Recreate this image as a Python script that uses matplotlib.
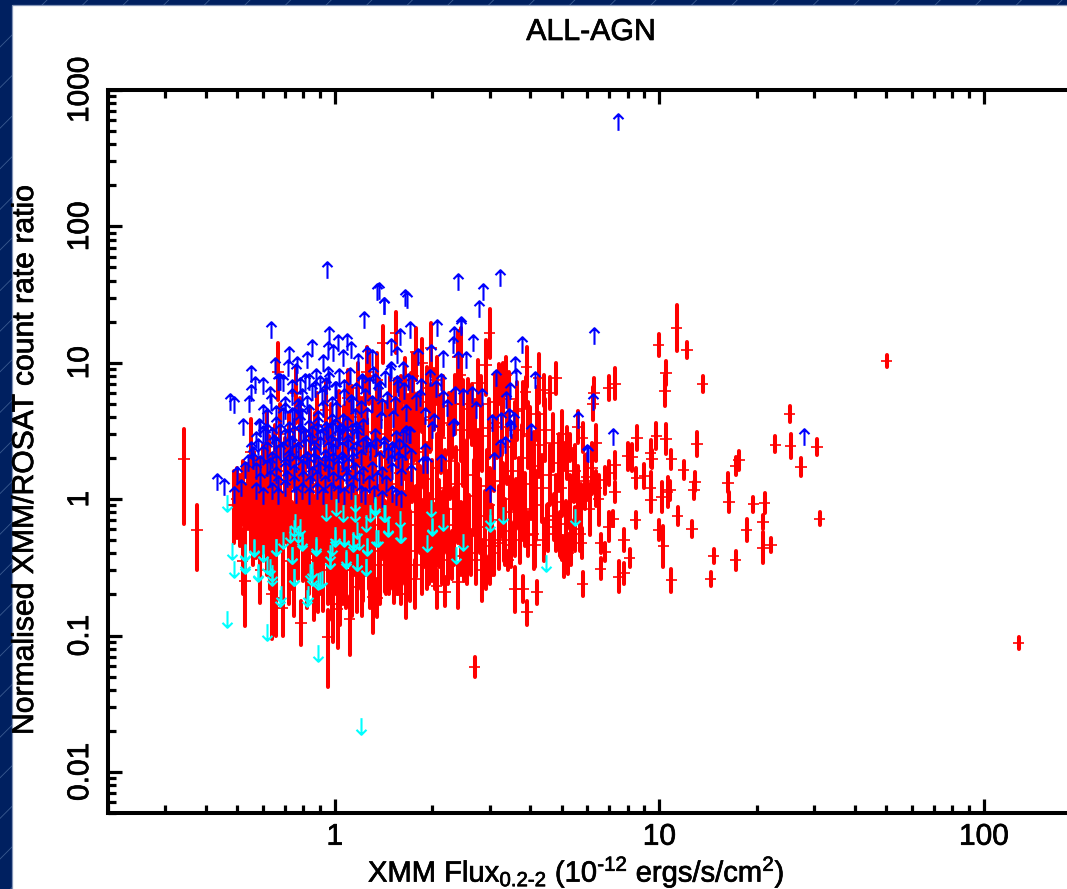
import numpy as np
import matplotlib
matplotlib.use("Agg")
import matplotlib.pyplot as plt
import matplotlib.patheffects as pe
from matplotlib.path import Path

plt.rcParams['font.family'] = ['Liberation Sans', 'DejaVu Sans']
plt.rcParams['mathtext.fontset'] = 'custom'
plt.rcParams['mathtext.rm'] = 'Liberation Sans'
plt.rcParams['mathtext.default'] = 'regular'

# detections: flux, ratio, ratio low end, ratio high end
red_x = [
    11.3, 9.96, 12.2, 10.5, 10.4, 13.6, 25.2, 22.8, 25.4, 30.7,
    27.4, 31.2, 50.2, 128, 8.54, 9.8, 10.5, 13.1, 8, 8.26,
    9.4, 9.5, 10.9, 11.9, 17.6, 17.2, 16.3, 16.4, 19.5, 21.1,
    20.9, 20.9, 22.1, 18.6, 17.2, 14.7, 14.4, 12.6, 11.4, 10.9,
    10.3, 10, 8.46, 9.45, 10.2, 10.6, 10.8, 12.9, 12.8, 8.5,
    9, 9.4, 7.3, 7.3, 7.2, 7, 7.8, 8.1, 6.8, 6.6,
    6.6, 7.5, 7.8, 5.8, 4.2, 3.92, 3.8, 3.6, 7, 7.3,
    6.3, 6.25, 6.4, 5.6, 5.8, 5.3, 5.1, 4.8, 4.6, 4.4,
    4.25, 3.9, 3.87, 3, 6.8, 7, 6.4, 6, 5.76, 5.7,
    5.24, 5.1, 5, 4.8, 4.5, 4.1, 3.8, 3.62, 3.42, 3.32,
    3.2, 3.03, 2.93, 2.85, 2.7, .343, .376, .53, .64, .66,
    .69, .787, .95, 1.02, .99, 1.11, 1.17, 1.31, 1.35, 1.52,
    1.47, .59, .52, .49, .92, 1.08, 1.66, 1.77, 2.06, 2.19,
    2.4, 2.56, 1.54, 1.41, 1.78, 1.98, 1.86, 1.65, 1.74, 2.06,
    1.92, 1.35, 1.27, 1.18, 1.1, 2.44, 2.4, 2.93, 2.76, 3.2,
    3.38, 3.3, 2.48, .67, .76, .55, .94, 1.26, 5, 5.5,
    .5, .51, .52, .53, .54, .55, .56, .565, .57, .58,
    .59, .6, .6, .61, .62, .625, .63, .64, .65, .655,
    .66, .67, .68, .69, .7, .71, .72, .73, .74, .75,
    .76, .77, .78, .79, .8, .81, .82, .83, .84, .85,
    .86, .87, .88, .89, .9, .91, .92, .93, .94, .95,
    .96, .97, .98, .99, 1, 1.01, 1.02, 1.03, 1.05, 1.06,
    1.07, 1.08, 1.1, 1.11, 1.12, 1.14, 1.15, 1.16, 1.18, 1.19,
    1.2, 1.22, 1.23, 1.25, 1.26, 1.27, 1.29, 1.3, 1.32, 1.33,
    1.35, 1.37, 1.39, 1.41, 1.43, 1.45, 1.47, 1.49, 1.51, 1.53,
    1.55, 1.57, 1.59, 1.61, 1.63, 1.65, 1.67, 1.69, 1.71, 1.73,
    1.75, 1.78, 1.8, 1.83, 1.85, 1.88, 1.9, 1.93, 1.95, 1.98,
    2, 2.03, 2.06, 2.09, 2.12, 2.15, 2.18, 2.21, 2.24, 2.27,
    2.3, 2.33, 2.37, 2.4, 2.44, 2.48, 2.52, 2.56, 2.6, 2.64,
    2.68, 2.72, 2.76, 2.8, 2.85, 2.9, 2.95, 3, 3.05, 3.1,
    3.15, 3.2, 3.25, 3.3, 3.35, 3.4, 3.46, 3.52, 3.58, 3.64,
    3.7, 3.78, 3.86, 3.94, 4.02, 4.1, 4.18, 4.26, 4.35, 4.45,
    4.6, 4.7, 4.8, 4.9, 5, 5.2, 5.3, 5.45, 5.6, 5.75,
    4.55, 4.75, 4.95, 5.15, 5.35, 5.5, 5.9, 6.1, 6.2, 6.5,
    .62, .68, .72, .78, .84, .88, .97, 1.03, 1.09, 1.13,
    1.21, 1.24, 1.31, 1.38, 1.44, 1.48, 1.56, 1.6, 1.68, 1.72,
    1.81, 1.86, 1.96, 2.02, 2.1, 2.16, 2.25, 2.35, 2.45, 2.58,
    2.7, 2.82, 2.98, 3.12, 3.28, 3.45, 3.6, 3.8, 4, 4.2,
    .72, .75, .82, .86, .89, .98, 1.04, 1.13, 1.21, 1.28,
    1.38, 1.44, 1.55, 1.6, 1.7, 1.85, 1.92, 2, 2.14, 2.3,
    2.5, 2.62, 2.72, 3, 3.1, 3.5, 3.72, 3.95, 4.15, 4.4,
]
red_y = [
    18, 13.5, 12.4, 8.4, 6.2, 7, 4.2, 2.5, 2.45, 2.4,
    1.73, .72, 10.3, .088, 2.83, 2.9, 2.77, 2.53, 2.07, 2.03,
    2.17, 1.97, 1.96, 1.63, 1.93, 1.75, 1.32, .955, .92, .94,
    .675, .44, .46, .59, .357, .38, .258, .605, .755, .255,
    .45, .59, .7, .98, 1.04, 1.13, 1.16, 1.34, 1.16, 1.42,
    1.47, 1.2, 1.77, 1.13, .72, .63, .5, .37, .41, .475,
    .31, .27, .287, .238, .207, .149, .22, .22, 6.5, 7,
    6, 5, 2.57, 3.4, 2.8, 2.37, 2.07, 7.7, 6, 6.3,
    7.7, 9.3, 6.1, 16.5, 1.38, 1.55, 1.2, 1.45, .475, .56,
    .4, .37, .44, .56, .7, .56, .79, .93, .357, .5,
    .475, .45, .287, .3, .059, 1.96, .59, .25, .2, .19,
    .16, .124, .097, .156, .17, .133, .227, .192, .188, .263,
    .3, .3, .35, .9, .3, .3, .2, .26, .23, .21,
    .248, .31, 16.5, 14, 12, 12.8, 10, 7.5, 8, 7.5,
    6.5, 7.5, 8, 6.5, 5.5, 8.1, 11, 9.6, 7.1, 7,
    8.1, 6.5, 5, 8.5, 6, 2.2, 4.5, 8.5, 3, 1.6,
    1, .85, 1.2, .75, 1.05, .9, .7, 1.3, .8, 1.1,
    .62, 1.4, .85, 1, .7, 1.7, .55, 1.15, .8, 2,
    .65, 1.3, .9, .6, 1.6, 1, .72, 1.25, .5, 2.2,
    .85, .62, 1.4, 1, .58, 1.8, .78, .45, 1.15, .9,
    .55, 2.5, .72, 1.3, .5, 1, .65, 1.7, .82, .42,
    1.2, .6, 2, .75, 1.05, .5, 1.5, .7, .9, .4,
    2.8, .62, 1.2, .8, .48, 1.75, .68, 1, .55, 3.2,
    .9, .45, 1.4, .7, 2.2, .55, 1.05, .78, .42, 1.6,
    3.8, .65, 1.15, .85, .5, 2, .72, 1.3, .55, 4.5,
    .95, .46, 1.55, .7, 2.6, .58, 1.1, .8, .42, 1.8,
    3.4, .65, 1.25, .9, .5, 2.2, .75, 1.4, .56, 4,
    1, .48, 1.7, .72, 2.8, .6, 1.2, .85, .46, 1.9,
    3.5, .65, 1.3, .95, .52, 2.3, .78, 1.5, .6, 4.2,
    1.05, .55, 1.8, .75, 2.9, .62, 1.25, .9, .5, 2.1,
    3.6, .7, 1.35, 1, .58, 2.4, .8, 1.6, .65, 4.4,
    1.1, 2, .85, 3, 1.3, 1.75, .9, 2.5, 1.2, 3.2,
    1.5, 2.6, .95, 1.85, 1.2, 2.2, .95, 1.5, 1.1, .85,
    .62, .75, .55, .66, .48, .6, 1.35, .85, 1.7, 1,
    2.6, 3, 2.4, 3.2, 2.7, 3.5, 2.9, 3.6, 3, 4,
    3.2, 4.4, 3.1, 4.2, 3, 4.6, 3.2, 4.8, 3.4, 5,
    3.6, 5.2, 3.8, 5.4, 3.4, 4.8, 3.6, 5, 3.2, 4.6,
    3.2, 5, 3.3, 5.2, 3.4, 5.4, 3.2, 4.6, 2.9, 4.2,
    .35, .3, .36, .28, .34, .3, .28, .3, .3, .33,
    .33, .36, .34, .3, .33, .33, .36, .38, .36, .38,
    .38, .4, .36, .36, .4, .46, .5, .55, .46, .5,
]
red_lo = [
    12.1, 11.2, 10.8, 6.9, 4.8, 6.1, 3.7, 2.2, 2, 2.1,
    1.48, .65, 9.3, .08, 2.3, 2.35, 2.15, 2.06, 1.65, 1.6,
    1.73, 1.7, 1.67, 1.4, 1.65, 1.5, 1.12, .81, .81, .79,
    .6, .34, .41, .49, .3, .34, .23, .53, .65, .21,
    .32, .5, .61, .8, .8, .88, .98, 1.14, 1, 1.2,
    1.2, .92, 1.4, .95, .64, .49, .42, .32, .35, .4,
    .26, .21, .24, .195, .17, .12, .175, .15, 5.3, 5.4,
    4.65, 3.8, 1.9, 2.6, 2.2, 1.9, 1.65, 5.9, 4.55, 4.8,
    5.1, 6.6, 4.7, 10.9, 1.1, 1.27, .89, .98, .37, .42,
    .285, .27, .36, .42, .54, .31, .5, .61, .3, .35,
    .31, .3, .22, .18, .05, .655, .3, .117, .094, .1,
    .1, .085, .042, .081, .09, .072, .149, .104, .137, .172,
    .2, .174, .2, .475, .152, .158, .134, .16, .16, .165,
    .16, .238, 11.8, 10, 7.5, 8, 6.6, 5, 5.4, 5,
    4.5, 4.8, 5, 4.2, 3.5, 5.3, 6.5, 5.8, 4.9, 5,
    5.8, 4.2, 3.2, 5.3, 3.6, 1.2, 2.6, 5.5, 1.9, 1,
    .52, .45, .65, .38, .6, .42, .33, .7, .37, .55,
    .3, .75, .4, .5, .28, .95, .22, .6, .35, 1.1,
    .3, .7, .42, .25, .85, .48, .3, .65, .22, 1.2,
    .38, .26, .75, .46, .25, .95, .33, .2, .58, .4,
    .24, 1.4, .3, .68, .2, .46, .27, .9, .35, .17,
    .6, .24, 1.05, .3, .5, .2, .78, .28, .4, .17,
    1.55, .25, .58, .34, .2, .9, .28, .46, .22, 1.8,
    .4, .18, .72, .28, 1.2, .22, .5, .33, .17, .82,
    2.1, .26, .56, .37, .21, 1.05, .3, .65, .22, 2.6,
    .43, .2, .8, .28, 1.4, .24, .52, .34, .18, .95,
    1.9, .27, .62, .4, .22, 1.2, .32, .72, .24, 2.3,
    .48, .22, .9, .32, 1.55, .28, .6, .4, .24, 1,
    2, .33, .68, .48, .28, 1.25, .4, .8, .33, 2.5,
    .55, .3, .95, .4, 1.6, .33, .65, .46, .28, 1.15,
    2, .38, .7, .52, .33, 1.3, .42, .85, .38, 2.7,
    .6, 1.1, .45, 1.7, .72, .95, .5, 1.45, .68, 1.9,
    .9, 1.6, .6, 1.15, .75, 1.4, .6, .95, .68, .55,
    .42, .5, .38, .45, .33, .42, .85, .55, 1.1, .65,
    1.5, 1.7, 1.35, 1.8, 1.5, 2, 1.6, 2, 1.7, 2.3,
    1.8, 2.5, 1.8, 2.4, 1.7, 2.7, 1.9, 2.8, 2, 3,
    2.1, 3.1, 2.2, 3.2, 2, 2.9, 2.1, 3, 1.9, 2.8,
    1.9, 3.1, 2, 3.2, 2.1, 3.4, 2, 2.9, 1.8, 2.7,
    .17, .14, .16, .13, .15, .13, .12, .14, .14, .16,
    .17, .2, .2, .17, .2, .2, .22, .25, .24, .26,
    .25, .28, .24, .24, .28, .32, .34, .38, .32, .35,
]
red_hi = [
    26.7, 16.2, 14.2, 10.3, 8.1, 8, 4.8, 2.9, 3, 2.75,
    2, .81, 11.4, .097, 3.45, 3.6, 3.56, 3.1, 2.6, 2.55,
    2.7, 2.3, 2.3, 1.9, 2.27, 2.04, 1.56, 1.13, 1.04, 1.11,
    .76, .57, .52, .71, .42, .43, .29, .69, .88, .31,
    .64, .7, .8, 1.2, 1.34, 1.45, 1.37, 1.57, 1.33, 1.68,
    1.8, 1.57, 2.2, 1.33, .82, .81, .6, .43, .48, .56,
    .37, .35, .34, .29, .25, .18, .275, .32, 8, 9.1,
    7.75, 6.6, 3.5, 4.45, 3.6, 3, 2.6, 10, 7.9, 8.2,
    11.5, 13, 7.9, 25, 1.73, 1.9, 1.62, 2.15, .61, .74,
    .56, .5, .54, .74, .9, 1, 1.24, 1.4, .42, .72,
    .72, .66, .38, .5, .07, 3.26, .9, .535, .43, .36,
    .25, .18, .155, .22, .3, .195, .357, .357, .26, .4,
    .45, .52, .6, 1.6, .55, .55, .36, .357, .305, .27,
    .33, .4, 23.7, 18.5, 18, 19.6, 15, 10.8, 11.8, 11,
    9.3, 11.8, 12.4, 10, 8.8, 18, 17, 14.6, 10.4, 9.8,
    11, 10, 7.5, 14, 9.4, 3.9, 7.5, 13, 4.4, 2.5,
    1.7, 1.5, 1.9, 1.3, 1.8, 1.55, 1.2, 2.2, 1.45, 2,
    1.15, 2.5, 1.6, 1.9, 1.3, 2.9, 1, 2.1, 1.5, 3.5,
    1.2, 2.4, 1.7, 1.1, 2.8, 1.9, 1.3, 2.3, .95, 3.8,
    1.6, 1.2, 2.5, 1.9, 1.05, 3.1, 1.45, .85, 2.2, 1.7,
    1.05, 4.3, 1.35, 2.4, .98, 1.95, 1.25, 3, 1.55, .8,
    2.3, 1.15, 3.6, 1.4, 2, .95, 2.7, 1.35, 1.75, .78,
    4.8, 1.2, 2.3, 1.55, .92, 3.1, 1.3, 1.95, 1.05, 5.6,
    1.7, .88, 2.6, 1.35, 3.9, 1.05, 2.05, 1.5, .82, 2.9,
    6.6, 1.25, 2.2, 1.65, .97, 3.6, 1.4, 2.5, 1.08, 7.6,
    1.85, .9, 2.8, 1.35, 4.6, 1.12, 2.15, 1.55, .82, 3.2,
    6, 1.25, 2.4, 1.75, .98, 3.9, 1.45, 2.6, 1.1, 7,
    1.95, .92, 3, 1.38, 4.8, 1.15, 2.3, 1.6, .85, 3.4,
    6, 1.2, 2.4, 1.8, .95, 4, 1.45, 2.7, 1.08, 7,
    1.95, 1, 3.2, 1.4, 5, 1.15, 2.3, 1.7, .9, 3.7,
    6.2, 1.25, 2.5, 1.85, 1, 4.2, 1.45, 2.9, 1.1, 7.2,
    2, 3.5, 1.55, 5.2, 2.3, 3.1, 1.6, 4.3, 2.1, 5.4,
    2.5, 4.2, 1.5, 3, 1.9, 3.4, 1.5, 2.35, 1.75, 1.3,
    .92, 1.1, .8, .97, .7, .88, 2.1, 1.3, 2.6, 1.5,
    4.4, 5, 4.2, 5.5, 4.7, 6, 5, 6.2, 5.2, 6.8,
    5.5, 7.5, 5.3, 7.2, 5.2, 7.8, 5.4, 8, 5.8, 8.4,
    6, 8.8, 6.4, 9, 5.8, 8, 6, 8.2, 5.4, 7.6,
    5.3, 8, 5.4, 8.4, 5.6, 8.6, 5.2, 7.2, 4.7, 6.6,
    .7, .6, .72, .58, .7, .62, .58, .6, .6, .65,
    .62, .65, .6, .55, .58, .56, .6, .6, .56, .58,
    .58, .58, .55, .54, .58, .68, .75, .8, .66, .72,
]

# lower limits (up arrows): flux, ratio
blue_x = [
    7.45, .945, .434, .455, .49, .515, .5, .528, .54, .55,
    .475, .49, .545, .55, .567, .55, .6, .638, .656, .63,
    .52, .583, .6, .62, .638, .677, .72, .715, .765, .82,
    .85, .92, .955, .96, .955, 1.02, .99, 1.09, 1.12, 1.06,
    1.18, 1.23, 1.26, 1.3, 1.49, 1.62, 1.59, 1.71, 1.49, 1.56,
    1.42, 2.06, 1.81, 1.98, 2.15, 2.4, 2.54, 2.67, 2.45, 2.33,
    2.32, 1.68, 1.96, 2.12, 1.57, 1.21, 1.31, 1.01, .875, .81,
    .76, .69, .67, .74, .79, .85, .91, .94, 1.07, 1.14,
    1.24, 1.36, 1.45, 1.53, 1.78, 1.83, 2.15, 2.21, 2.34, 2.48,
    2.64, 2.73, 1.66, 1.89, 2.02, 2.32, 2, .587, .62, .69,
    .75, .79, .886, .98, 1.06, 1.15, 1.26, 1.39, 1.51, 1.66,
    1.7, .57, .61, .65, .7, .74, .8, .84, .9, .97,
    1.03, 1.1, 1.17, 1.25, 1.33, 1.42, 1.54, .56, .6, .64,
    .68, .72, .76, .82, .87, .93, .99, 1.05, 1.13, 1.2,
    1.28, 1.37, 1.46, 1.57, 1.72, 1.9, 2.12, .57, .62, .66,
    .7, .75, .79, .85, .9, .95, 1.02, 1.08, 1.15, 1.22,
    1.3, 1.4, 1.5, 1.6, 1.72, .57, .6, .64, .67, .7,
    .76, .79, .83, .88, .92, .97, 1.02, 1.07, 1.12, 1.2,
    1.24, 1.32, 1.4, 1.5, 1.6, 1.54, 1.92, 1.87, 3, 3.1,
    3.24, 3.34, 6, 2.33, 3.46, 4.03, 1.61, 1.49, 1.62, 1.69,
    1.52, 1.64, 6.3, 3.77, 3.6, 3.62, 3.13, 4.15, 3.46, 3.36,
    2.85, 6.25, 3.05, 3.25, 3.45, 3.57, 3.48, 5.6, 7.2, 28,
    6.05, 1.37, 1.42, 1.64, 1.67, 2.4, 3.24, 2.87, 2.78, 2.44,
    1.35, .66, .72, .78, .83, .89, .94, 1, 1.04, 1.09,
    1.16, 1.22, .7, .77, .82, .92, .98, 1.01, 1.12, 1.2,
    1.3, 1.4,
    .58, .62, .66, .69, .73, .77, .81, .86, .9, .95,
    1, 1.05, 1.1, 1.16, 1.22, 1.28, 1.34, 1.42, 1.5, 1.58,
    .59, .63, .67, .71, .75, .8, .84, .88, .93, .99,
    1.04, 1.09, 1.14, 1.19, 1.27, 1.35, 1.44, .74, .78, .83,
    .87, .9, .93, .96, 1, 1.03, 1.07, 1.11, 1.16, 1.21,
    1.27, 1.33, 1.38, 1.43, 1.48, 1.55, 1.63, 1.73, 1.84, 2.05,
    .56, .59, .63, .66, .7, .73, .76, .8, .83, .86,
    .89, .93, .96, .99, 1.02, 1.06, 1.1, 1.14, .6, .64,
    .68, .72, .75, .78, .81, .85, .88, .92, .95, .98,
    1.02, 1.05, 1.09, 1.13, 1.18, .66, .7, .74, .78, .83,
]
blue_y = [
    580, 47.5, 1.34, 1.22, 1.07, 1.2, 1.5, 1.63, 1.84, 2.3,
    5.2, 4.9, 5, 8.3, 6.9, 6, 6.7, 17.3, 9.5, 5.8,
    3.4, 3.4, 4.3, 4, 5.2, 7.2, 11.4, 9.1, 9.6, 10.4,
    12.8, 9.9, 8.1, 16, 12.4, 13.9, 11.8, 14.2, 12.4, 10.8,
    10.2, 20.5, 11.4, 10.8, 8.8, 8.8, 15.5, 17.3, 13, 11.4,
    26, 18, 11, 11.8, 10.6, 10.4, 10.4, 13.9, 18.8, 16,
    13.5, 7.2, 7.7, 7.2, 6.5, 7.2, 8.1, 6.3, 7.9, 7.2,
    8.6, 7.1, 7.2, 5.6, 5.6, 6.1, 5.6, 6.7, 5.6, 4.9,
    5.6, 6.1, 5.3, 4.9, 5.2, 5.5, 5.4, 4.65, 5.8, 5.6,
    5.8, 4.5, 4.3, 4.1, 3.7, 3.3, 3.2, 3.3, 3.1, 4.1,
    4.1, 4, 3.9, 3.7, 3.7, 4, 4.1, 3.8, 3.9, 3,
    2.95, 2.7, 2.9, 2.6, 2.85, 2.55, 2.95, 2.65, 2.8, 2.6,
    2.9, 2.6, 2.8, 2.55, 2.85, 2.5, 2.75, 2.1, 2.15, 1.95,
    2.2, 2, 2.2, 1.95, 2.15, 2, 2.2, 1.95, 2.15, 2,
    2.2, 1.95, 2.1, 1.95, 2.05, 2.2, 1.85, 1.6, 1.7, 1.5,
    1.65, 1.55, 1.7, 1.5, 1.65, 1.55, 1.7, 1.5, 1.6, 1.5,
    1.65, 1.5, 1.6, 1.45, 1.55, 1.15, 1.05, 1.15, 1.05, 1.2,
    1.08, 1.15, 1.05, 1.15, 1.05, 1.15, 1.1, 1.05, 1.15, 1.1,
    1.05, 1.1, 1, 1.1, 1, 1.04, 1.77, 1.77, 1.1, 1.9,
    2.37, 2.5, 2.17, 3.4, 3.3, 3.1, 1.84, 1.84, 2.8, 2.95,
    2.17, 2.2, 15.7, 13.4, 9.6, 7.9, 7.7, 7.45, 6.2, 5.3,
    5.6, 5.2, 3.6, 3.75, 4, 3.75, 3.2, 3.8, 2.86, 2.85,
    2.13, 33.6, 26, 30, 28.8, 39, 42, 33, 24.7, 18.3,
    33, 3.5, 3.2, 3.6, 3.3, 3.5, 3.2, 3.4, 3.1, 3.5,
    3.2, 3.4, 4.9, 4.7, 5, 4.6, 4.9, 4.5, 5.1, 4.6,
    5, 4.7,
    2.4, 2.3, 2.45, 2.3, 2.5, 2.3, 2.45, 2.35, 2.5, 2.3,
    2.45, 2.3, 2.4, 2.3, 2.45, 2.3, 2.45, 2.35, 2.3, 2.4,
    1.35, 1.4, 1.3, 1.4, 1.3, 1.4, 1.3, 1.4, 1.3, 1.38,
    1.3, 1.38, 1.3, 1.4, 1.3, 1.38, 1.3, 6.5, 6.8, 7.2,
    6.4, 7, 6, 7.5, 6.3, 7.8, 6.5, 8, 6.2, 7,
    6.8, 7.2, 6.4, 7.6, 8.4, 7, 6.2, 7, 6.6, 6.4,
    1.9, 1.8, 1.75, 1.85, 1.75, 1.9, 1.8, 1.85, 1.75, 1.9,
    1.8, 1.85, 1.75, 1.9, 1.8, 1.85, 1.75, 1.9, 3, 2.9,
    3.1, 2.85, 3, 3.1, 2.85, 3, 3.15, 2.9, 3.05, 3.2,
    2.85, 3.1, 2.9, 3.1, 3, 4.2, 4.4, 4.1, 4.5, 4.3,
]

# upper limits (down arrows): flux, ratio
cyan_x = [
    1.2, .483, .49, .528, .53, .563, .6, .58, .62, .64,
    .658, .69, .74, .747, .84, .85, .91, .886, .82, .68,
    .465, .616, .89, .878, .965, .965, 1, 1.07, 1.14, 1.19,
    1.26, 1.34, 1.08, 1.17, 1.25, 1.46, .747, .77, .79, .727,
    1.59, 2, 2.15, 1.92, 2.36, 2.48, 3, 4.47, 5.5, 3.3,
    3, 1.33, 1.42, 1.46, 1.59, 1.6, 1.98, 1.99, .465, .753,
    .78, .79, .94, 1.01, 1.06, 1.15, 1.15, 1.28, 1.33, 1.43,
    1.36, 1.25, 1.17, 1.26, 1.14, 1.07, 1, .98, .965, .878,
    .74, .75, .85, .9, .66, .6, .563, .528, .63, .64,
    .58, .528, 1.08, 1.17, 1.25, .685, .825,
]
cyan_y = [
    .0218, .418, .31, .34, .41, .445, .404, .288, .328, .286,
    .445, .5, .388, .27, .293, .27, .26, .25, .19, .188,
    .132, .107, .074, .46, .4, .357, .545, .52, .5, .495,
    .45, .52, .36, .347, .32, .61, .61, .56, .487, .56,
    .56, .62, .68, .476, .39, .487, .665, .34, .74, .76,
    .74, .9, .79, .63, .72, .56, .86, .634, .935, .68,
    .626, .5, .807, .88, .79, .93, .79, .79, .88, .79,
    .52, .667, .59, .447, .476, .53, .52, .447, .357, .447,
    .388, .27, .3, .255, .447, .4, .437, .4, .32, .27,
    .293, .328, .37, .347, .32, .2, .2,
]

x_ticks = [1, 10, 100]
x_tick_labels = ['1', '10', '100']
y_ticks = [0.01, 0.1, 1, 10, 100, 1000]
y_tick_labels = ['0.01', '0.1', '1', '10', '100', '1000']

W, H = 1067, 889
red_dx = 0.041  # half width of the flux bar, as a fraction of the flux
bolder = [pe.withStroke(linewidth=0.5, foreground='black')]

up_arrow = Path([(0, -1), (0, 1), (-.6, .4), (0, 1), (.6, .4)],
                [Path.MOVETO, Path.LINETO, Path.MOVETO, Path.LINETO, Path.LINETO])
down_arrow = Path([(0, 1), (0, -1), (-.6, -.4), (0, -1), (.6, -.4)],
                  [Path.MOVETO, Path.LINETO, Path.MOVETO, Path.LINETO, Path.LINETO])

fig = plt.figure(figsize=(W / 100, H / 100), dpi=100)

# slide background behind the plot
bg = fig.add_axes([0, 0, 1, 1])
bg.set_xlim(0, W)
bg.set_ylim(H, 0)
bg.axis('off')
bg.add_patch(plt.Rectangle((0, 0), W, H, color='#002060', lw=0, zorder=1))
for c in np.arange(47, 47 + 41 * 50, 40.6):
    bg.plot([c, 0], [0, c], color='#3a5a90', lw=0.6, zorder=2)
bg.add_patch(plt.Rectangle((12, 5), W, H, facecolor='white', edgecolor='#8496b8', lw=0.9, zorder=3))

ax = fig.add_axes([108 / W, 1 - 813 / H, 973.5 / W, 723 / H], facecolor='none')
ax.set_xscale('log')
ax.set_yscale('log')
ax.set_xlim(0.2, 200)
ax.set_ylim(0.005, 1000)

red_x = np.array(red_x)
ax.vlines(red_x, red_lo, red_hi, color='#ff0000', lw=2.9, capstyle='round')
ax.hlines(red_y, red_x * (1 - red_dx), red_x * (1 + red_dx), color='#ff0000', lw=1.2)
ax.plot(blue_x, blue_y, ls='none', marker=up_arrow, ms=12, mew=1.5, mfc='none', mec='#0000ff')
ax.plot(cyan_x, cyan_y, ls='none', marker=down_arrow, ms=12, mew=1.5, mfc='none', mec='#00ffff')

for s in ax.spines.values():
    s.set_linewidth(2.9)
ax.set_xticks(x_ticks)
ax.set_xticklabels(x_tick_labels)
ax.set_yticks(y_ticks)
ax.set_yticklabels(y_tick_labels, rotation=90, va='center')
ax.tick_params(which='major', direction='in', length=10, width=2.3, top=True, right=True,
               labelsize=21.5)
ax.tick_params(axis='x', which='major', pad=7)
ax.tick_params(axis='y', which='major', pad=10)
ax.tick_params(which='minor', direction='in', length=5.5, width=2.3, top=True, right=True,
               labelbottom=False, labelleft=False)
ax.xaxis.set_minor_locator(matplotlib.ticker.LogLocator(10, subs=np.arange(2, 10), numticks=20))
ax.yaxis.set_minor_locator(matplotlib.ticker.LogLocator(10, subs=np.arange(2, 10), numticks=20))
ax.xaxis.set_minor_formatter(matplotlib.ticker.NullFormatter())
ax.yaxis.set_minor_formatter(matplotlib.ticker.NullFormatter())
for t in ax.get_xticklabels() + ax.get_yticklabels():
    t.set_path_effects(bolder)

fig.text(591 / W, 1 - 32 / H, 'ALL-AGN', fontsize=21.8, ha='center', va='center', path_effects=bolder)
fig.text(576 / W, 1 - 872 / H, r'XMM Flux$_{0.2\text{-}2}$ (10$^{\text{-}12}$ ergs/s/cm$^2$)',
         fontsize=21, ha='center', va='center', path_effects=bolder)
fig.text(25 / W, 1 - 460 / H, 'Normalised XMM/ROSAT count rate ratio', fontsize=21.7,
         rotation=90, ha='center', va='center', path_effects=bolder)

fig.savefig('out.png', dpi=100)
